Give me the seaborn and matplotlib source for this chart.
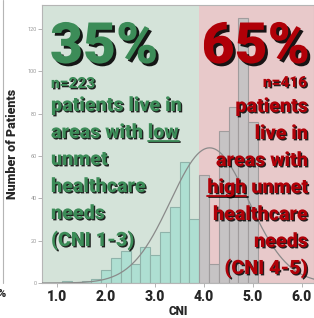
import numpy as np
import pandas as pd
import seaborn as sns
import matplotlib.pyplot as plt
import matplotlib.patheffects as pe
from matplotlib.lines import Line2D

# CNI histogram, bins of 0.2 centred on the label values
low_centers = [1.2, 1.4, 1.6, 1.8, 2.0, 2.2, 2.4, 2.6, 2.8, 3.0, 3.2, 3.4, 3.6, 3.8]
low_counts = [1, 0, 1, 2, 6, 12, 15, 9, 17, 13, 24, 36, 57, 30]
high_centers = [4.0, 4.2, 4.4, 4.6, 4.8, 5.0]
high_counts = [51, 9, 72, 83, 125, 76]

x_ticks = [1.0, 2.0, 3.0, 4.0, 5.0, 6.0]
y_ticks = [0, 20, 40, 60, 80, 100, 120]
split_cni = 3.9

low_pct, high_pct = "35%", "65%"
low_n, high_n = "n=223", "n=416"
low_lines = ["patients live in", "areas with low", "unmet", "healthcare", "needs", "(CNI 1-3)"]
high_lines = ["patients", "live in", "areas with", "high unmet", "healthcare", "needs", "(CNI 4-5)"]

GREEN_TXT = "#3c8c58"
RED_TXT = "#b00008"
W, H = 314, 318
WT = 900
LINE_FS = 14.2

sns.set_style("white")
plt.rcParams["font.family"] = ["Roboto", "DejaVu Sans"]

fig = plt.figure(figsize=(W / 100, H / 100), dpi=100)
ax = fig.add_axes([42 / W, 1 - 283 / H, 1 - 42 / W, (283 - 5) / H])

xmin, xmax = 1 - 15 / 49, 1 + (W - 57) / 49
ax.set_xlim(xmin, xmax)
ax.set_ylim(0, 131.3)

ax.axvspan(xmin, split_cni, color="#d4e3d9", zorder=0, lw=0)
ax.axvspan(split_cni, xmax, color="#e8c9ca", zorder=0, lw=0)

low_df = pd.DataFrame({"cni": low_centers, "n": low_counts})
high_df = pd.DataFrame({"cni": high_centers, "n": high_counts})
edges_low = list(np.round(np.arange(1.1, 3.95, 0.2), 2))
edges_high = list(np.round(np.arange(3.9, 5.15, 0.2), 2))
sns.histplot(data=low_df, x="cni", weights="n", bins=edges_low, ax=ax,
             color="#aedfd2", edgecolor="#8fb3aa", linewidth=0.8, alpha=1, zorder=2)
sns.histplot(data=high_df, x="cni", weights="n", bins=edges_high, ax=ax,
             color="#c6c3c4", edgecolor="#a09c9d", linewidth=0.8, alpha=1, zorder=2)

# normal curve fitted to the data
vals = np.repeat(low_centers + high_centers, low_counts + high_counts)
mu, sd = vals.mean(), vals.std()
xs = np.linspace(xmin, xmax, 300)
ys = len(vals) * 0.2 * np.exp(-0.5 * ((xs - mu) / sd) ** 2) / (sd * np.sqrt(2 * np.pi))
ax.plot(xs, ys, color="#8a8a8a", lw=0.9, zorder=3)

ax.set_xticks(x_ticks)
ax.set_xticklabels([f"{t:.1f}" for t in x_ticks], fontsize=10, fontweight=WT)
ax.set_yticks(y_ticks)
ax.set_yticklabels([str(t) for t in y_ticks], fontsize=4, color="#999999")
ax.tick_params(axis="y", length=3, width=0.6, color="#aaaaaa", pad=1, left=True)
ax.tick_params(axis="x", length=3, width=0.6, color="#aaaaaa", pad=2, bottom=True)
ax.set_xlabel("CNI", fontsize=8.5, fontweight=WT, labelpad=1)
ax.set_ylabel("Number of Patients", fontsize=9, fontweight=WT, labelpad=6)
for s in ax.spines.values():
    s.set_color("#b5b5b5")
    s.set_linewidth(0.8)


def fx(px):
    return px / W


def fy(py):
    return 1 - py / H


big_fx = [pe.withSimplePatchShadow(offset=(2.0, -2.0), shadow_rgbFace="black", alpha=0.9)]
small_fx = [pe.withSimplePatchShadow(offset=(1.0, -1.0), shadow_rgbFace="black", alpha=0.85)]

fig.text(fx(50), fy(63), low_pct, fontsize=41, fontweight=WT, color=GREEN_TXT,
         va="baseline", ha="left", path_effects=big_fx, zorder=10)
fig.text(fx(310), fy(63), high_pct, fontsize=41, fontweight=WT, color=RED_TXT,
         va="baseline", ha="right", path_effects=big_fx, zorder=10)
fig.text(fx(51), fy(88), low_n, fontsize=11, fontweight=WT, color=GREEN_TXT,
         va="baseline", ha="left", path_effects=small_fx, zorder=10)
fig.text(fx(307), fy(87), high_n, fontsize=11, fontweight=WT, color=RED_TXT,
         va="baseline", ha="right", path_effects=small_fx, zorder=10)

low_txt = []
for i, line in enumerate(low_lines):
    t = fig.text(fx(51), fy(111 + 27 * i), line, fontsize=LINE_FS, fontweight=WT,
                 color=GREEN_TXT, va="baseline", ha="left", path_effects=small_fx, zorder=10)
    low_txt.append(t)
high_txt = []
for i, line in enumerate(high_lines):
    t = fig.text(fx(308), fy(112 + 27 * i), line, fontsize=LINE_FS, fontweight=WT,
                 color=RED_TXT, va="baseline", ha="right", path_effects=small_fx, zorder=10)
    high_txt.append(t)

# underline "low" and "high"
renderer = fig.canvas.get_renderer()


def word_width(word):
    tmp = fig.text(0, 0, word, fontsize=LINE_FS, fontweight=WT)
    w = tmp.get_window_extent(renderer).width
    tmp.remove()
    return w


line_fx = [pe.SimpleLineShadow(offset=(1.0, -1.0), shadow_color="black", alpha=0.85), pe.Normal()]
bb = low_txt[1].get_window_extent(renderer)
wl = word_width("low")
base_low = H - (111 + 27) - 2.5
fig.add_artist(Line2D([fx(bb.x1 - wl), fx(bb.x1)], [base_low / H, base_low / H],
                      color=GREEN_TXT, lw=1.3, path_effects=line_fx, zorder=10))
bb = high_txt[3].get_window_extent(renderer)
wh = word_width("high")
base_high = H - (112 + 27 * 3) - 2.5
fig.add_artist(Line2D([fx(bb.x0), fx(bb.x0 + wh)], [base_high / H, base_high / H],
                      color=RED_TXT, lw=1.3, path_effects=line_fx, zorder=10))

# bits of the neighbouring panel
fig.add_artist(Line2D([fx(2.5), fx(2.5)], [fy(283), 1], color="#b5b5b5", lw=0.8))
fig.text(fx(-3), fy(297), "%", fontsize=8, fontweight=WT, va="baseline", ha="left")

fig.savefig("out.png", dpi=100)
